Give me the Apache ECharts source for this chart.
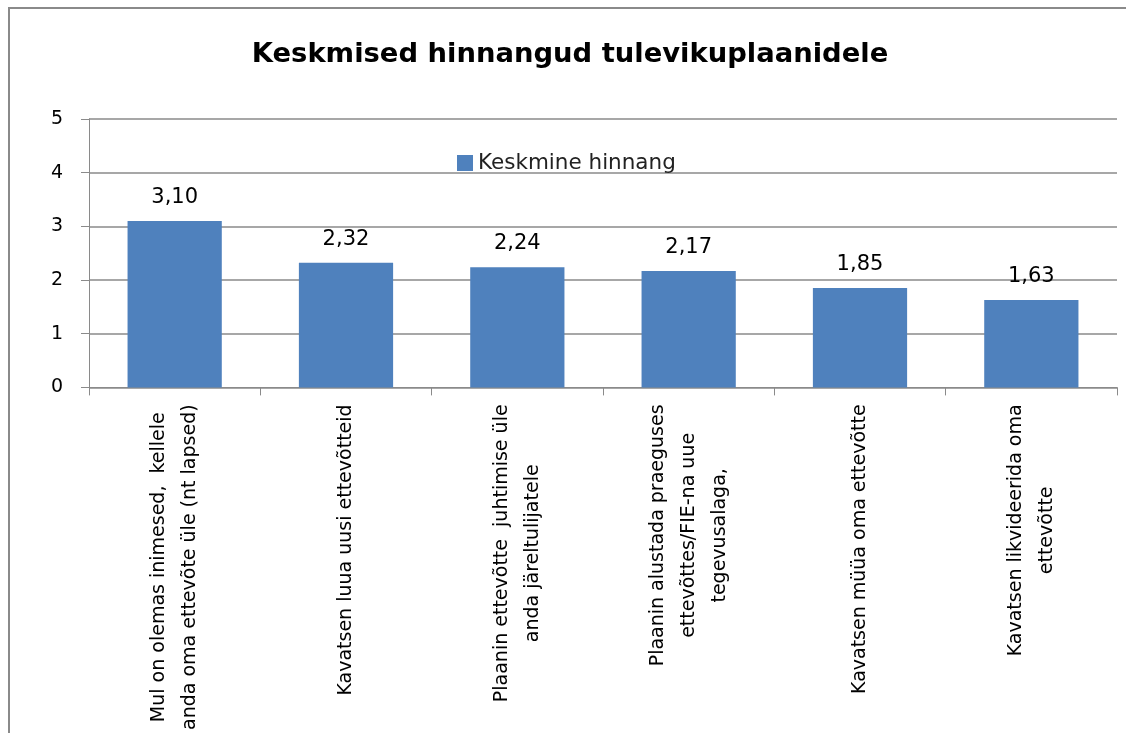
<!DOCTYPE html>
<html>
<head>
<meta charset="utf-8">
<style>
    html, body { margin: 0; padding: 0; background: #fff; overflow: hidden; }
    #frame { position: absolute; left: 8px; top: 7px; width: 1200px; height: 800px; border: 2px solid #8a8a8a; }
    #mains { position: absolute; left: 0; top: 0; width: 1126px; height: 733px; }
</style>
<script src="https://cdn.jsdelivr.net/npm/echarts@6/dist/echarts.min.js"></script>
</head>
<body>
<div id="frame"></div>
<div id="mains"></div>
<script>
    var categories = [
        'Mul on olemas inimesed,  kellele\nanda oma ettevõte üle (nt lapsed)',
        'Kavatsen luua uusi ettevõtteid',
        'Plaanin ettevõtte  juhtimise üle\nanda järeltulijatele',
        'Plaanin alustada praeguses\nettevõttes/FIE-na uue\ntegevusalaga,',
        'Kavatsen müüa oma ettevõtte',
        'Kavatsen likvideerida oma\nettevõtte'
    ];
    var values = [3.10, 2.32, 2.24, 2.17, 1.85, 1.63];
    var yTicks = [0, 1, 2, 3, 4, 5];

    var font = 'DejaVu Sans';

    var myChart = echarts.init(document.getElementById('mains'));
    myChart.setOption({
        backgroundColor: 'transparent',
        animation: false,
        title: {
            text: 'Keskmised hinnangud tulevikuplaanidele',
            left: 565,
            textAlign: 'center',
            top: 36,
            textStyle: { fontFamily: font, fontSize: 27.4, fontWeight: 'bold', color: '#000' }
        },
        legend: {
            left: 452,
            top: 147,
            itemWidth: 16,
            itemHeight: 16,
            itemGap: 5,
            textStyle: { fontFamily: font, fontSize: 21.5, color: '#222' },
            data: [{ name: 'Keskmine hinnang', icon: 'rect' }]
        },
        grid: {
            left: 89,
            right: 9,
            top: 119,
            bottom: 345
        },
        xAxis: {
            type: 'category',
            data: categories,
            axisLine: { lineStyle: { color: '#8a8a8a', width: 1 } },
            axisTick: { show: true, length: 8, lineStyle: { color: '#8a8a8a' } },
            axisLabel: {
                interval: 0,
                rotate: 90,
                margin: 17,
                fontFamily: font,
                fontSize: 19,
                color: '#000',
                formatter: function (v) {
                    return v.split('\n').map(function (s) { return '{c|' + s + '}'; }).join('\n');
                },
                rich: {
                    c: { align: 'center', fontFamily: font, fontSize: 19, lineHeight: 31, color: '#000' }
                }
            }
        },
        yAxis: {
            type: 'value',
            min: yTicks[0],
            max: yTicks[yTicks.length - 1],
            interval: 1,
            axisLine: { show: true, lineStyle: { color: '#8a8a8a', width: 1 } },
            axisTick: { show: true, length: 8, lineStyle: { color: '#8a8a8a' } },
            splitLine: { lineStyle: { color: '#8a8a8a', width: 1.5 } },
            axisLabel: {
                margin: 26,
                fontFamily: font,
                fontSize: 19,
                color: '#000'
            }
        },
        series: [
            {
                name: 'Keskmine hinnang',
                type: 'bar',
                barWidth: '55%',
                itemStyle: { color: '#4f81bd' },
                label: {
                    show: true,
                    position: 'top',
                    distance: 13,
                    fontFamily: font,
                    fontSize: 21,
                    color: '#000',
                    formatter: function (p) { return p.value.toFixed(2).replace('.', ','); }
                },
                data: values
            }
        ]
    });
</script>
</body>
</html>
